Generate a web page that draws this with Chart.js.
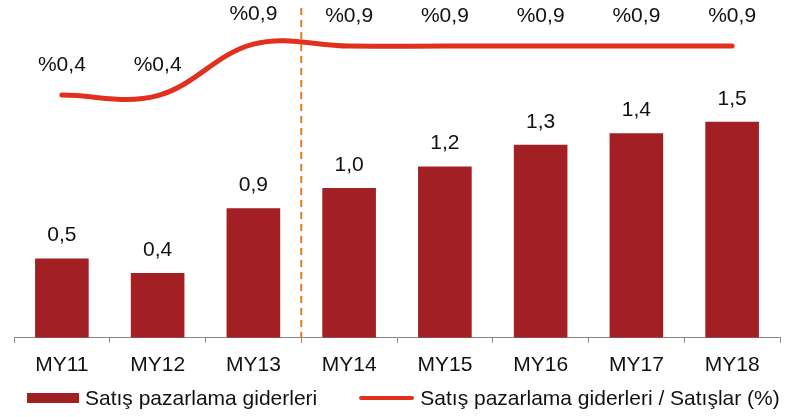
<!DOCTYPE html>
<html>
<head>
    <title>Satış pazarlama giderleri</title>
    <script src="https://cdn.jsdelivr.net/npm/chart.js@4/dist/chart.umd.min.js"></script>
    <style>
        * {
            margin: 0;
            padding: 0;
            box-sizing: border-box;
        }

        body {
            background: #fff;
            width: 788px;
            height: 417px;
            overflow: hidden;
            font-family: "Liberation Sans", Arial, sans-serif;
        }

        .chart-wrap {
            position: relative;
            width: 788px;
            height: 417px;
        }

        .legend {
            position: absolute;
            left: 27px;
            top: 385px;
            height: 25px;
            display: flex;
            align-items: center;
            font-size: 21px;
            color: #111;
            white-space: nowrap;
        }

        .legend-item {
            display: flex;
            align-items: center;
        }

        .legend-item + .legend-item {
            margin-left: 42px;
        }

        .swatch-bar {
            width: 52px;
            height: 10px;
            background: #A21F24;
            margin-right: 6px;
        }

        .swatch-line {
            width: 55px;
            height: 4px;
            border-radius: 2px;
            background: #E2301E;
            margin-right: 6px;
        }
    </style>
</head>
<body>
    <div class="chart-wrap">
        <canvas id="chart"></canvas>
        <div class="legend">
            <div class="legend-item"><span class="swatch-bar"></span><span id="legend0"></span></div>
            <div class="legend-item"><span class="swatch-line"></span><span id="legend1"></span></div>
        </div>
    </div>

    <script>
        const categories = ['MY11', 'MY12', 'MY13', 'MY14', 'MY15', 'MY16', 'MY17', 'MY18'];
        const spendValues = [0.55, 0.45, 0.9, 1.04, 1.19, 1.34, 1.42, 1.5];
        const spendLabels = ['0,5', '0,4', '0,9', '1,0', '1,2', '1,3', '1,4', '1,5'];
        const ratioValues = [0.4, 0.395, 0.92, 0.9, 0.9, 0.9, 0.9, 0.9];
        const ratioLabels = ['%0,4', '%0,4', '%0,9', '%0,9', '%0,9', '%0,9', '%0,9', '%0,9'];
        const seriesNames = ['Satış pazarlama giderleri', 'Satış pazarlama giderleri / Satışlar (%)'];

        const barColor = '#A21F24';
        const lineColor = '#E2301E';
        const dashColor = '#E07B1F';
        const textColor = '#111';
        const fontFamily = '"Liberation Sans", Arial, sans-serif';

        document.getElementById('legend0').textContent = seriesNames[0];
        document.getElementById('legend1').textContent = seriesNames[1];

        // value labels above bars and line points, plus the dashed divider
        const overlay = {
            id: 'overlay',
            afterDatasetsDraw(chart) {
                const ctx = chart.ctx;
                const x = chart.scales.x;
                const area = chart.chartArea;

                // dashed divider between MY13 and MY14
                const divX = (x.getPixelForValue(2) + x.getPixelForValue(3)) / 2;
                ctx.save();
                ctx.strokeStyle = dashColor;
                ctx.lineWidth = 2;
                ctx.setLineDash([7, 5]);
                ctx.beginPath();
                ctx.moveTo(divX, 8);
                ctx.lineTo(divX, area.bottom);
                ctx.stroke();
                ctx.restore();

                ctx.save();
                ctx.font = '21px ' + fontFamily;
                ctx.fillStyle = textColor;
                ctx.textAlign = 'center';
                ctx.textBaseline = 'middle';
                chart.getDatasetMeta(0).data.forEach((el, i) => {
                    ctx.fillText(spendLabels[i], el.x, el.y - 23);
                });
                chart.getDatasetMeta(1).data.forEach((el, i) => {
                    ctx.fillText(ratioLabels[i], el.x, el.y - 30);
                });
                ctx.restore();
            }
        };

        const ctx = document.getElementById('chart').getContext('2d');
        new Chart(ctx, {
            data: {
                labels: categories,
                datasets: [{
                    type: 'bar',
                    label: seriesNames[0],
                    data: spendValues,
                    backgroundColor: barColor,
                    yAxisID: 'y',
                    barPercentage: 0.56,
                    categoryPercentage: 1,
                    order: 1
                }, {
                    type: 'line',
                    label: seriesNames[1],
                    data: ratioValues,
                    borderColor: lineColor,
                    borderWidth: 5,
                    borderCapStyle: 'round',
                    pointRadius: 0,
                    tension: 0.37,
                    yAxisID: 'y2',
                    order: 0
                }]
            },
            options: {
                responsive: true,
                maintainAspectRatio: false,
                animation: false,
                layout: {
                    padding: { left: 14, right: 8, top: 0, bottom: 29 }
                },
                plugins: {
                    tooltip: { enabled: false },
                    legend: { display: false }
                },
                scales: {
                    x: {
                        grid: {
                            display: true,
                            drawOnChartArea: false,
                            drawTicks: true,
                            tickLength: 5,
                            color: '#888'
                        },
                        border: { color: '#888', width: 1 },
                        ticks: {
                            color: textColor,
                            padding: 10,
                            font: { family: fontFamily, size: 21 }
                        }
                    },
                    y: {
                        display: false,
                        min: 0,
                        max: 2.346
                    },
                    y2: {
                        display: false,
                        min: -2.075,
                        max: 1.37
                    }
                }
            },
            plugins: [overlay]
        });
    </script>
</body>
</html>
